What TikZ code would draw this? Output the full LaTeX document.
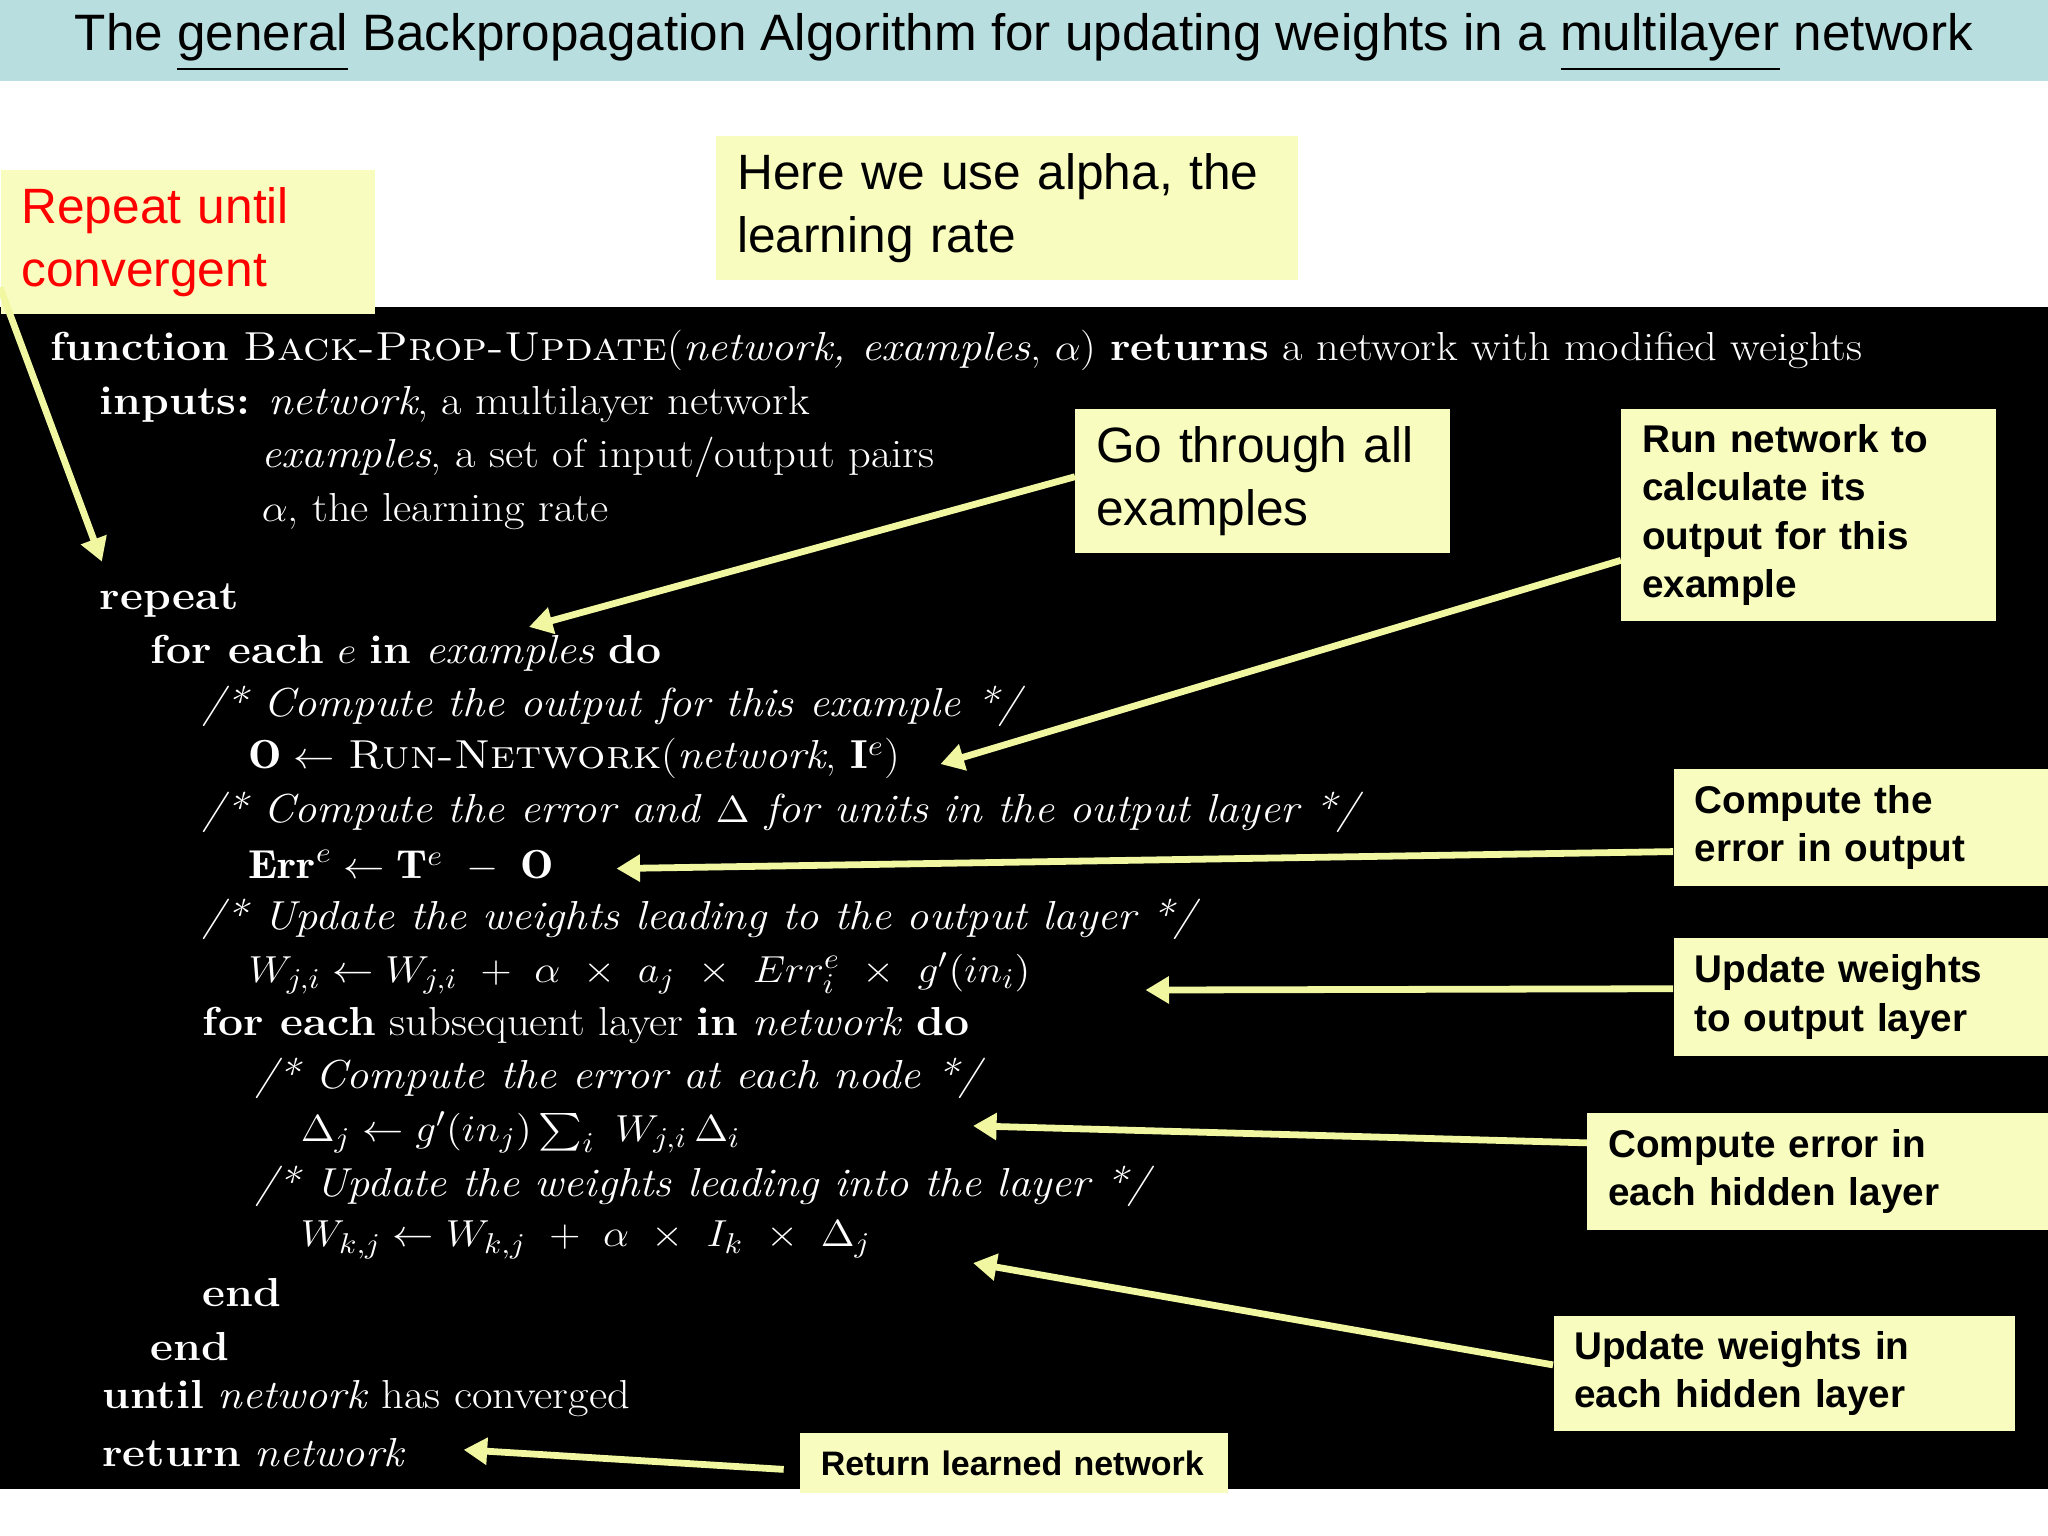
\documentclass[tikz,border=0pt]{standalone}
\usepackage{fontspec}
\usepackage{amsmath}
\usepackage{graphicx}
\newfontfamily\sans{Liberation Sans}
\usetikzlibrary{arrows.meta}
\definecolor{titlebg}{HTML}{B9DEE0}
\definecolor{note}{HTML}{F8FCBE}
\definecolor{arr}{HTML}{F0F7A0}
\newcommand{\wide}[1]{\scalebox{1.1}[1]{#1}}
\tikzset{
 notebox/.style={fill=note,inner sep=0pt,anchor=north west,text width=#1},
 code/.style={anchor=west,text=white,font=\fontsize{15.5}{17}\selectfont,inner sep=0pt},
 yarrow/.style={draw=arr,line width=2.6pt,-{Triangle[length=9pt,width=10pt]}}
}
\begin{document}
\begin{tikzpicture}[x=0.5pt,y=-0.5pt]
\useasboundingbox (0,0) rectangle (1568,1176);
\fill[white] (0,0) rectangle (1568,1176);
\fill[titlebg] (0,0) rectangle (1568,62);
\node[font=\sans\fontsize{19.6}{21}\selectfont] (title) at (784,33) {The \underline{general} Backpropagation Algorithm for updating weights in a \underline{multilayer} network};
\fill[black] (0,235) rectangle (1568,1140);
% code lines
\node[code] (l1) at (38,268) {\wide{\textbf{function} \textsc{Back-Prop-Update}(\textit{network, examples}, $\alpha$) \textbf{returns} a network with modified weights}};
\node[code] (l2) at (76,310) {\wide{\textbf{inputs:} \textit{network}, a multilayer network}};
\node[code] (l3) at (200,350) {\wide{\textit{examples}, a set of input/output pairs}};
\node[code] (l4) at (200,392) {\wide{$\alpha$, the learning rate}};
\node[code] (l5) at (76,460) {\wide{\textbf{repeat}}};
\node[code] (l6) at (115,500) {\wide{\textbf{for each} $e$ \textbf{in} \textit{examples} \textbf{do}}};
\node[code] (l7) at (155,541) {\wide{\textit{/* Compute the output for this example */}}};
\node[code] (l8) at (190,581) {\wide{$\mathbf{O}\leftarrow$ \textsc{Run-Network}(\textit{network}, $\mathbf{I}^e$)}};
\node[code] (l9) at (155,622) {\wide{\textit{/* Compute the error and $\Delta$ for units in the output layer */}}};
\node[code] (l10) at (190,663) {\wide{$\mathbf{Err}^e\leftarrow\mathbf{T}^e\ -\ \mathbf{O}$}};
\node[code] (l11) at (155,704) {\wide{\textit{/* Update the weights leading to the output layer */}}};
\node[code] (l12) at (190,745) {\wide{$W_{j,i}\leftarrow W_{j,i}\ +\ \alpha\ \times\ a_j\ \times\ Err_i^e\ \times\ g'(in_i)$}};
\node[code] (l13) at (155,785) {\wide{\textbf{for each} subsequent layer \textbf{in} \textit{network} \textbf{do}}};
\node[code] (l14) at (195,826) {\wide{\textit{/* Compute the error at each node */}}};
\node[code] (l15) at (230,867) {\wide{$\Delta_j\leftarrow g'(in_j)\textstyle\sum_i\ W_{j,i}\,\Delta_i$}};
\node[code] (l16) at (195,908) {\wide{\textit{/* Update the weights leading into the layer */}}};
\node[code] (l17) at (230,949) {\wide{$W_{k,j}\leftarrow W_{k,j}\ +\ \alpha\ \times\ I_k\ \times\ \Delta_j$}};
\node[code] (l18) at (155,990) {\wide{\textbf{end}}};
\node[code] (l19) at (115,1031) {\wide{\textbf{end}}};
\node[code] (l20) at (78,1071) {\wide{\textbf{until} \textit{network} has converged}};
\node[code] (l21) at (78,1112) {\wide{\textbf{return} \textit{network}}};
% notes
\node[notebox=143.5pt,minimum height=55pt,font=\sans\fontsize{19}{24}\selectfont,text=red,align=left] (n1) at (0,130) {\hspace*{8pt}Repeat until\\\hspace*{8pt}convergent};
\node[notebox=222.5pt,minimum height=55pt,font=\sans\fontsize{19}{24}\selectfont,align=left] (n2) at (548,104) {\hspace*{8pt}Here we use alpha, the\\\hspace*{8pt}learning rate};
\node[notebox=143.5pt,minimum height=55pt,font=\sans\fontsize{19}{24}\selectfont,align=left] (n3) at (823,313) {\hspace*{8pt}Go through all\\\hspace*{8pt}examples};
\node[notebox=143.5pt,minimum height=81pt,font=\sans\bfseries\fontsize{14.8}{18.5}\selectfont,align=left] (n4) at (1241,313) {\hspace*{8pt}Run network to\\\hspace*{8pt}calculate its\\\hspace*{8pt}output for this\\\hspace*{8pt}example};
\node[notebox=143.5pt,minimum height=45pt,font=\sans\bfseries\fontsize{14.8}{18.5}\selectfont,align=left] (n5) at (1281,588) {\hspace*{8pt}Compute the\\\hspace*{8pt}error in output};
\node[notebox=143.5pt,minimum height=45pt,font=\sans\bfseries\fontsize{14.8}{18.5}\selectfont,align=left] (n6) at (1281,718) {\hspace*{8pt}Update weights\\\hspace*{8pt}to output layer};
\node[notebox=176.5pt,minimum height=44.5pt,font=\sans\bfseries\fontsize{14.8}{18.5}\selectfont,align=left] (n7) at (1215,852) {\hspace*{8pt}Compute error in\\\hspace*{8pt}each hidden layer};
\node[notebox=176.5pt,minimum height=44pt,font=\sans\bfseries\fontsize{14.8}{18.5}\selectfont,align=left] (n8) at (1189,1007) {\hspace*{8pt}Update weights in\\\hspace*{8pt}each hidden layer};
\node[notebox=164pt,minimum height=23pt,font=\sans\bfseries\fontsize{13}{14}\selectfont,align=left] (n9) at (612,1097) {\hspace*{8pt}Return learned network};
% arrow targets
\coordinate (t1) at (78,430);
\coordinate (t3) at (405,480);
\coordinate (t4) at (720,585);
\coordinate (t5) at (472,665);
\coordinate (t6) at (877,758);
\coordinate (t7) at (745,862);
\coordinate (t8) at (745,967);
\coordinate (t9) at (355,1110);
\draw[yarrow] ([yshift=-45pt]n1.north west) -- (t1);
\draw[yarrow] ([yshift=-26pt]n3.north west) -- (t3);
\draw[yarrow] ([yshift=-58pt]n4.north west) -- (t4);
\draw[yarrow] ([yshift=-32pt]n5.north west) -- (t5);
\draw[yarrow] ([yshift=-19.5pt]n6.north west) -- (t6);
\draw[yarrow] ([yshift=-11.5pt]n7.north west) -- (t7);
\draw[yarrow] ([yshift=-19pt]n8.north west) -- (t8);
\draw[yarrow] ([xshift=-6pt,yshift=-14pt]n9.north west) -- (t9);
\end{tikzpicture}
\end{document}
